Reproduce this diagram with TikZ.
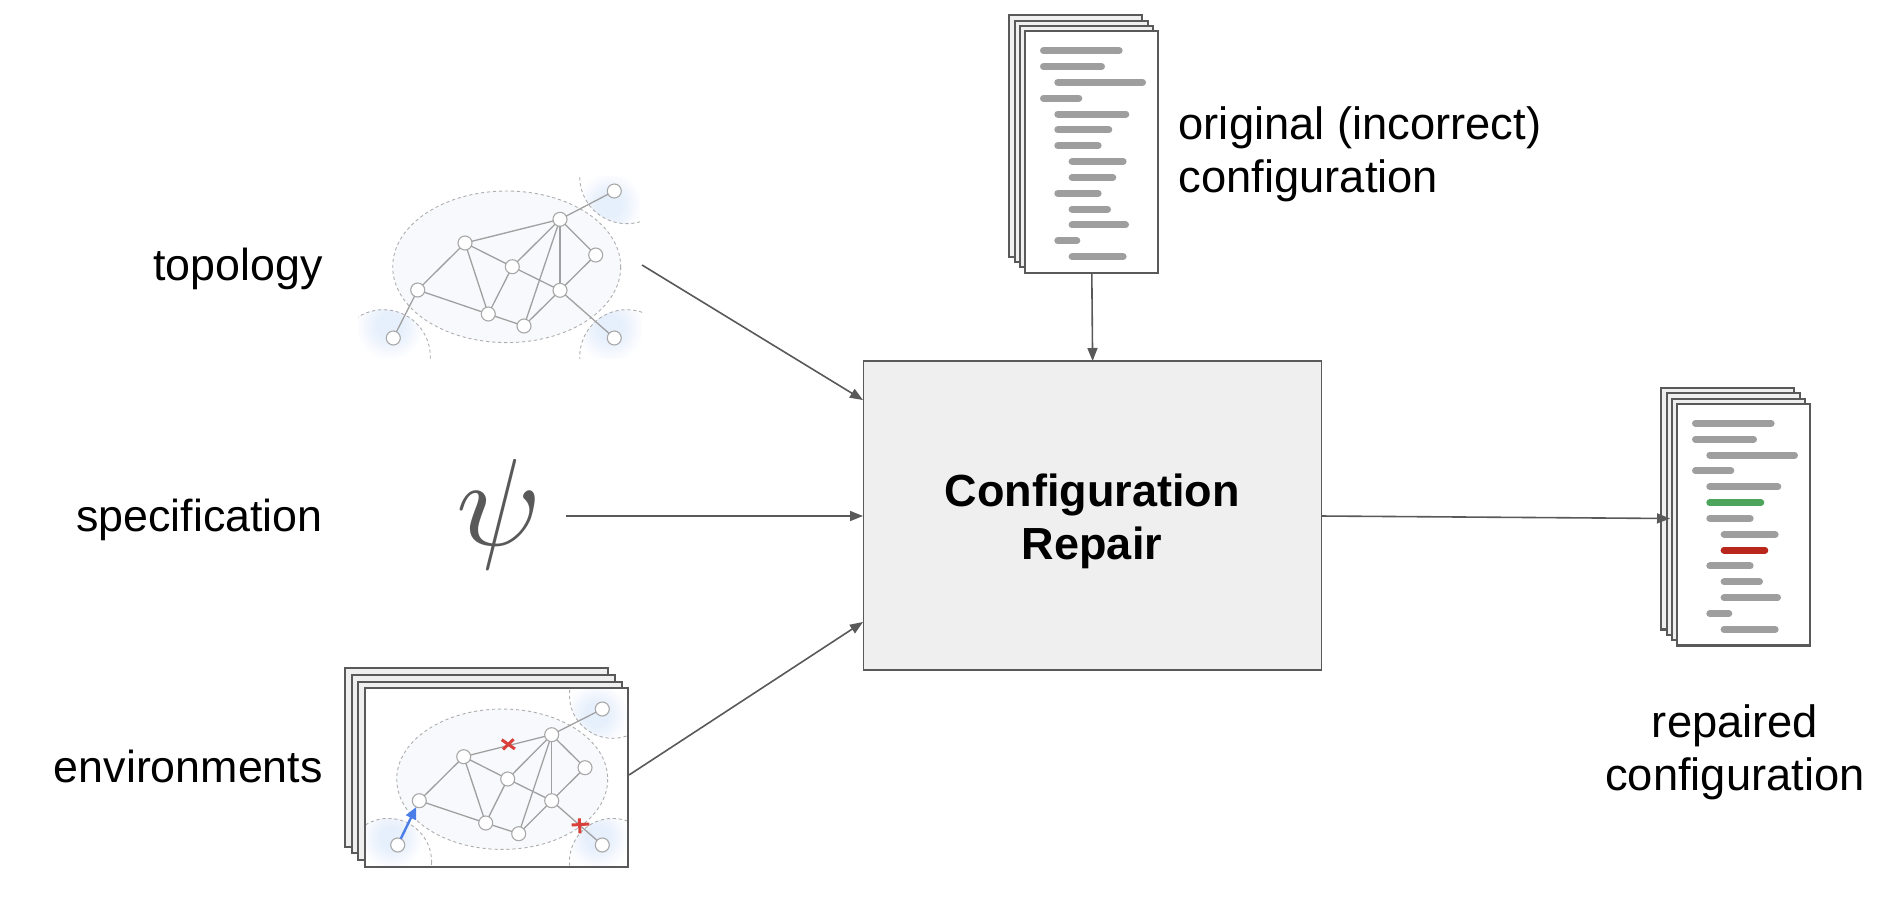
\documentclass[tikz,border=0pt]{standalone}
\usepackage{fontspec}
\setmainfont{Liberation Sans}
\usetikzlibrary{arrows.meta}
\definecolor{ink}{HTML}{595959}
\definecolor{pagefill}{HTML}{EFEFEF}
\definecolor{docline}{HTML}{9E9E9E}
\definecolor{docgreen}{HTML}{4CA55A}
\definecolor{docred}{HTML}{B8261C}
\definecolor{netline}{HTML}{A0A0A0}
\definecolor{netring}{HTML}{A8A8A8}
\definecolor{netdash}{HTML}{9A9A9A}
\definecolor{cloud}{HTML}{F8F9FC}
\definecolor{tint}{HTML}{E6EFFC}
\definecolor{faultred}{HTML}{D9403A}
\definecolor{faultblue}{HTML}{4A7DE8}
\tikzset{
  flow/.style={draw=ink,line width=1.6pt,-{Triangle[length=13pt,width=10pt]}},
  label/.style={inner sep=0pt,font=\fontsize{45.3}{53}\selectfont,text=black},
  sidelabel/.style={label,anchor=east,font=\fontsize{44.8}{53}\selectfont},
  sheet/.style={draw=ink,line width=2.2pt,fill=pagefill},
  topsheet/.style={draw=ink,line width=2.2pt,fill=white,inner sep=0pt,outer sep=0pt,anchor=north west},
  netnode/.style={circle,draw=netring,line width=1.1pt,fill=white,inner sep=0pt,minimum size=14pt,outer sep=0pt},
  netedge/.style={draw=netline,line width=1.3pt},
  cloudring/.style={draw=netdash!80!white,line width=0.9pt,dash pattern=on 3.2pt off 2.8pt},
  fault/.style={draw=faultred,line width=3pt},
}
\newcommand{\docstack}[5]{%
  \begin{scope}[shift={(#2,#3)}]
    \foreach \o in {-16,-10.67,-5.33}
      \draw[sheet] (\o,\o) rectangle (\o+133,\o+241.4);
    \node[topsheet,minimum width=133pt,minimum height=241.4pt] (#1) at (0,0) {};
    \foreach \s/\e [count=\i] in {14.7/97.3,14.7/79.7,29/120.7,14.7/57,29/104,29/87,29/76.3,43.3/101.3,43.3/91,29/76.3,43.3/85.7,43.3/103.7,29/55,43.3/101.3}{
      \ifnum\i=6 \def\linecol{#4}\else\ifnum\i=9 \def\linecol{#5}\else\def\linecol{docline}\fi\fi
      \draw[draw=\linecol,line width=7pt,line cap=round] ({\s+3.5},{19.33+15.85*(\i-1)}) -- ({\e-3.5},{19.33+15.85*(\i-1)});
    }
  \end{scope}}
% args: ring centre x y, ring radius, glow centre x y, glow radius, clip path
\newcommand{\netblob}[7]{%
  \begin{scope}
    \clip #7;
    \begin{scope}
      \clip (#1,#2) circle (#3);
      \foreach \k [evaluate=\k as \p using {min(100,(21-\k)*7.5)}] in {20,19,...,1}
        \fill[tint!\p!white] (#4,#5) circle ({#6*\k/20});
    \end{scope}
    \draw[cloudring] (#1,#2) circle (#3);
  \end{scope}}
\begin{document}
\begin{tikzpicture}[x=1pt,y=-1pt]
\useasboundingbox (0,0) rectangle (1882,898);

% topology
\netblob{626.7}{176.7}{47}{610}{205}{32}{(579,176) rectangle (640,226)}
\netblob{383.3}{356.7}{47}{390}{326}{34}{(358,306) rectangle (434,358)}
\netblob{626.7}{356.7}{47}{610}{328}{34}{(578,306) rectangle (642,358)}
\draw[cloudring,fill=cloud] (506.7,266.8) ellipse [x radius=114,y radius=75.8];
\foreach \n/\x/\y in {1/417.7/290,2/465/243,3/512.3/266.7,4/560/219.3,5/595.7/255,6/560/290.3,7/488.3/314,8/524/326,a/393.3/338,b/614.3/191,c/614.3/338}
  \node[netnode] (t\n) at (\x,\y) {};
\foreach \a/\b in {1/2,1/7,2/3,2/4,2/7,3/4,3/6,3/7,4/5,4/6,4/8,5/6,6/8,7/8,1/a,4/b,6/c}
  \draw[netedge] (t\a) -- (t\b);

% environments
\foreach \o in {-20,-13.33,-6.67}
  \draw[sheet] (365+\o,688.3+\o) rectangle (628.3+\o,866.7+\o);
\node[topsheet,minimum width=263.3pt,minimum height=178.4pt] (ef) at (365,688.3) {};
\netblob{612.7}{695}{43.3}{597}{715}{31}{(366,689) rectangle (627.3,865.7)}
\netblob{388.3}{861.7}{43.3}{392}{838}{31}{(366,689) rectangle (627.3,865.7)}
\netblob{612.7}{861.7}{43.3}{598}{838}{31}{(366,689) rectangle (627.3,865.7)}
\draw[cloudring,fill=cloud] (502.2,779.2) ellipse [x radius=105.5,y radius=70.2];
\foreach \n/\x/\y in {1/419.3/800.7,2/463.7/756.7,3/507.7/779,4/551.7/734.7,5/585/767.7,6/551.7/800.7,7/485.7/823,8/518.7/833.7,a/397.7/845,b/602.3/709,c/602.3/845}
  \node[netnode] (e\n) at (\x,\y) {};
\foreach \a/\b in {1/2,1/7,2/3,2/4,2/7,3/4,3/6,3/7,4/5,4/6,4/8,5/6,6/8,7/8,4/b,6/c}
  \draw[netedge] (e\a) -- (e\b);
\draw[draw=faultblue,line width=2.4pt,-{Triangle[length=12pt,width=11pt]}] (ea) -- (e1);
\draw[fault] (501.7,739.7) -- (514.9,749);
\draw[fault] (503,749.4) -- (513.6,739.3);
\draw[fault] (571.7,825) -- (589.3,824);
\draw[fault] (579.3,818.3) -- (580,833.3);
\draw[draw=ink,line width=2.2pt] (ef.south west) rectangle (ef.north east);

% documents
\docstack{orig}{1025.3}{31.3}{docline}{docline}
\docstack{rep}{1677.3}{404}{docgreen}{docred}

% main box
\node[draw=ink,line width=1.6pt,fill=pagefill,minimum width=458pt,minimum height=309pt,inner sep=0pt,outer sep=0pt] (box) at (1092.6,515.5) {};
\node[align=center,inner sep=0pt,font=\bfseries\fontsize{45}{53}\selectfont] (boxtext) at (1092,521) {Configuration\\Repair};

% labels
\node[sidelabel] (ltopo) at (323,269) {topology};
\node[sidelabel] (lspec) at (323,520) {specification};
\node[sidelabel] (lenv) at (323,766) {environments};
\node[label,anchor=west,align=left] (lorig) at (1178.5,154) {original (incorrect)\\configuration};
\node[label,align=center] (lrep) at (1735,752) {repaired\\configuration};
\node[scale=12.4,text=ink,inner sep=0pt] (psi) at (499.5,514) {$\psi$};

% connectors
\coordinate (topoOut) at (642,265);
\coordinate (topoIn) at (863,400);
\coordinate (psiOut) at (566,516);
\coordinate (psiIn) at (863,516);
\coordinate (envOut) at (629,775);
\coordinate (envIn) at (863,622);
\coordinate (repIn) at (1670,518.5);
\coordinate (boxOut) at (1321,516);
\draw[flow] (topoOut) -- (topoIn);
\draw[flow] (psiOut) -- (psiIn);
\draw[flow] (envOut) -- (envIn);
\draw[flow] (orig.south) -- (box.north);
\draw[flow] (boxOut) -- (repIn);
\end{tikzpicture}
\end{document}
